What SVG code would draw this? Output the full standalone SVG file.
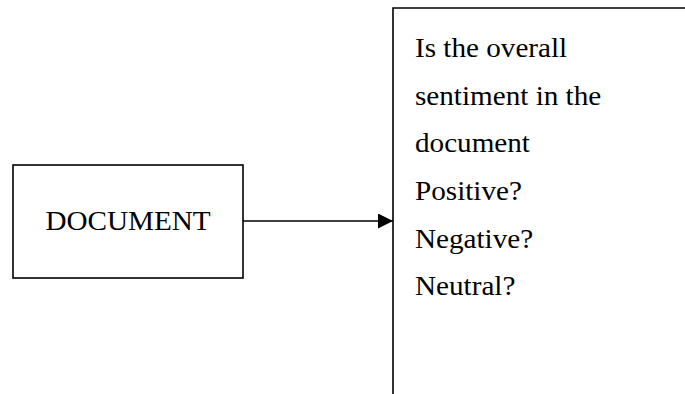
<svg xmlns="http://www.w3.org/2000/svg" width="685" height="394" viewBox="0 0 685 394">
  <style>
    .box { fill: #ffffff; stroke: #000000; stroke-width: 1.6; }
    .edge { fill: none; stroke: #000000; stroke-width: 1.6; }
    .t { font-family: "Liberation Serif", "Times New Roman", serif; font-size: 27px; fill: #000000; }
  </style>
  <defs>
    <marker id="arrowhead" markerWidth="15" markerHeight="15" refX="15" refY="7.5" orient="auto" markerUnits="userSpaceOnUse">
      <path d="M0,0 L15,7.5 L0,15 Z" fill="#000000"/>
    </marker>
  </defs>
  <rect width="685" height="394" fill="#ffffff"/>

  <g id="node-document">
    <rect class="box" x="13" y="165" width="230" height="113"/>
    <text class="t" text-anchor="middle" transform="translate(128 230) scale(1.08 1)">DOCUMENT</text>
  </g>

  <g id="node-question">
    <path class="box" d="M393,396 V8 H690"/>
    <text class="t" transform="translate(415 57) scale(1.08 1)">Is the overall</text>
    <text class="t" transform="translate(415 104.5) scale(1.08 1)">sentiment in the</text>
    <text class="t" transform="translate(415 152) scale(1.08 1)">document</text>
    <text class="t" transform="translate(415 200) scale(1.08 1)">Positive?</text>
    <text class="t" transform="translate(415 247.5) scale(1.08 1)">Negative?</text>
    <text class="t" transform="translate(415 295) scale(1.08 1)">Neutral?</text>
  </g>

  <g id="connectors">
    <line class="edge" x1="243" y1="221" x2="393" y2="221" marker-end="url(#arrowhead)"/>
  </g>
</svg>
